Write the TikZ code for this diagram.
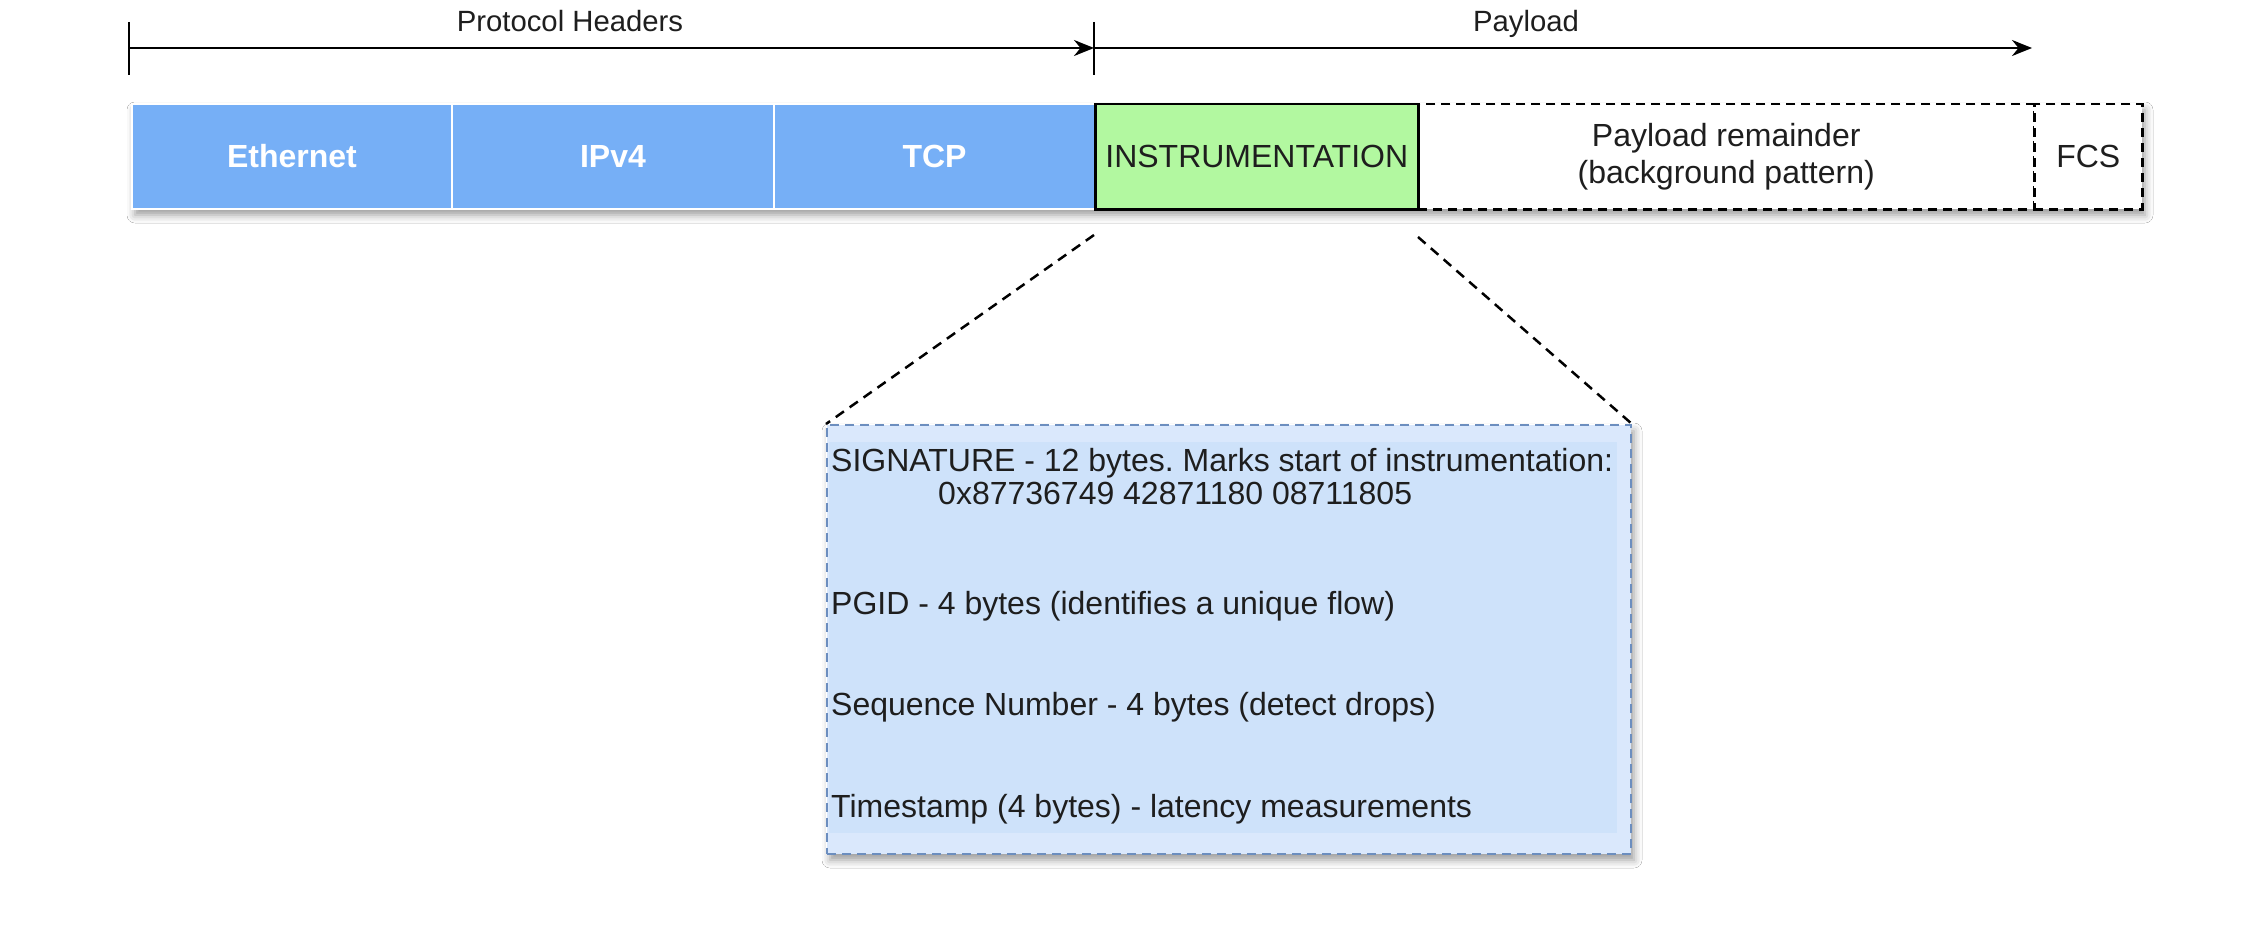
\documentclass[tikz,border=0pt]{standalone}
\usepackage{fontspec}
\setmainfont{Liberation Sans}
\usetikzlibrary{shadows.blur,arrows.meta}
\definecolor{hdrblue}{RGB}{118,175,246}
\definecolor{instgreen}{RGB}{178,248,160}
\definecolor{detfill}{RGB}{218,232,252}
\definecolor{detinner}{RGB}{206,226,250}
\definecolor{detstroke}{RGB}{108,142,191}
\definecolor{txtdark}{RGB}{30,30,30}
\frenchspacing
\tikzset{
  x=1pt, y=-1pt,
  every node/.style={font=\fontsize{32}{37}\selectfont, text=txtdark},
  softshadow/.style={blur shadow={shadow xshift=4pt, shadow yshift=-7pt, shadow blur radius=8pt, shadow opacity=40}},
  field/.style={rectangle, minimum height=105pt, inner sep=0pt, anchor=north west},
  hdrfield/.style={field, fill=hdrblue, draw=white, line width=2pt, text=white,
                   font=\fontsize{32}{37}\selectfont\bfseries},
  instfield/.style={field, fill=instgreen, draw=black, line width=2.5pt},
  dashfield/.style={field, fill=white, draw=black, line width=2.5pt, dash pattern=on 9pt off 6pt, align=center},
  detbox/.style={rectangle, fill=detfill, draw=detstroke, line width=2pt, dash pattern=on 9pt off 6pt},
  zoomline/.style={draw=black, line width=2.5pt, dash pattern=on 10pt off 7pt},
  spanarrow/.style={draw=black, line width=2.5pt, -{Stealth[length=20pt,width=16pt]}},
  tickline/.style={draw=black, line width=2.5pt},
  detline/.style={anchor=base west, inner sep=0pt},
  spanlabel/.style={anchor=base, inner sep=0pt, font=\fontsize{29.3}{35}\selectfont},
}
\begin{document}
\begin{tikzpicture}
\useasboundingbox (0,0) rectangle (2258,936);
\fill[white] (0,0) rectangle (2258,936);

% shadows of the field strip and the detail box
\path[softshadow, fill=white] (131,103) rectangle (2141,208);
\path[softshadow, fill=white] (826,424) rectangle (1630,853);

% frame fields
\node[hdrfield, minimum width=320pt] (eth) at (131,103) {Ethernet};
\node[hdrfield, minimum width=322pt] (ipv) at (451,103) {IPv4};
\node[hdrfield, minimum width=321pt] (tcp) at (773,103) {TCP};
\node[dashfield, minimum width=616pt] (rem) at (1417,103) {Payload remainder\\(background pattern)};
\node[dashfield, minimum width=108pt] (fcs) at (2033,103) {FCS};
\node[instfield, minimum width=323pt] (inst) at (1094,103) {INSTRUMENTATION};

% span arrows
\coordinate (ph) at (129,48);
\coordinate (pm) at (1094,48);
\coordinate (pe) at (2032,48);
\draw[tickline] (129,22) -- (129,75);
\draw[tickline] (1094,22) -- (1094,75);
\draw[spanarrow] (ph) -- (pm);
\draw[spanarrow] (pm) -- (pe);
\node[spanlabel] (lph) at (570,32) {Protocol Headers};
\node[spanlabel] (lpl) at (1526,32) {Payload};

% detail box
\node[detbox, minimum width=804pt, minimum height=429pt, inner sep=0pt, anchor=north west] (det) at (826,424) {};
\fill[detinner] (829,442) rectangle (1617,833);

% zoom lines
\coordinate (zl) at (1094,235);
\coordinate (zr) at (1418,237);
\draw[zoomline] (zl) -- (det.north west);
\draw[zoomline] (zr) -- (det.north east);

% detail text
\node[detline] (t1) at (831,471) {SIGNATURE - 12 bytes. Marks start of instrumentation:};
\node[detline] (t2) at (938,504) {0x87736749 42871180 08711805};
\node[detline] (t3) at (831,614) {PGID - 4 bytes (identifies a unique flow)};
\node[detline] (t4) at (831,715) {Sequence Number - 4 bytes (detect drops)};
\node[detline] (t5) at (831,817) {Timestamp (4 bytes) - latency measurements};
\end{tikzpicture}
\end{document}
